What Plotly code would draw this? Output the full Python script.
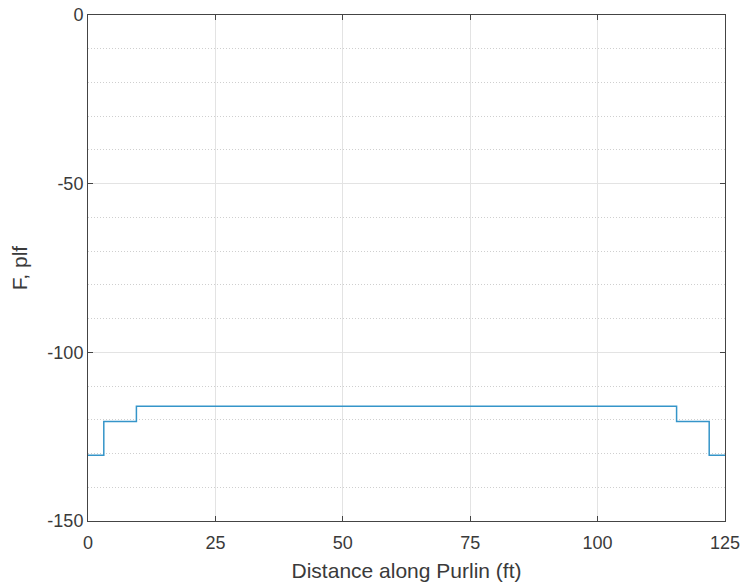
import plotly.graph_objects as go

# step breakpoints (ft) and force levels (plf)
x_pts = [0, 3.1, 9.5, 115.5, 121.9, 125]
f_vals = [-130.5, -120.5, -116, -120.5, -130.5, -130.5]

x_ticks = [0, 25, 50, 75, 100, 125]
x_labels = ["0", "25", "50", "75", "100", "125"]
y_ticks = [0, -50, -100, -150]
y_labels = ["0", "-50", "-100", "-150"]

fig = go.Figure()
fig.add_trace(go.Scatter(x=x_pts, y=f_vals, mode="lines", line_shape="hv",
                         line=dict(color="#3595c9", width=1.5), showlegend=False))

txt = "#3a3a3a"
axis_font = dict(family="Liberation Sans, Arial, sans-serif", size=18, color=txt)
fig.update_layout(
    width=744, height=586,
    margin=dict(l=88, r=19, t=15, b=65),
    paper_bgcolor="white", plot_bgcolor="white",
    font=axis_font,
    xaxis=dict(range=[0, 125], tickvals=x_ticks, ticktext=x_labels,
               automargin=False, ticklabelstandoff=5,
               showgrid=True, gridcolor="#e3e3e3", gridwidth=1,
               showline=True, linecolor="#444444", linewidth=1, mirror="ticks",
               ticks="inside", ticklen=5, tickcolor="#444444",
               zeroline=False, tickfont=dict(size=18, color=txt),
               title=dict(text="Distance along Purlin (ft)", font=dict(size=21, color=txt), standoff=11)),
    yaxis=dict(range=[-150, 0], tickvals=y_ticks, ticktext=y_labels,
               automargin=False,
               showgrid=True, gridcolor="#e3e3e3", gridwidth=1,
               showline=True, linecolor="#444444", linewidth=1, mirror="ticks",
               ticks="inside", ticklen=5, tickcolor="#444444",
               zeroline=False, tickfont=dict(size=18, color=txt),
               minor=dict(dtick=10, tick0=0, showgrid=True, gridcolor="#cfcfcf",
                          griddash="1px,2px", gridwidth=1),
               title=dict(text="F, plf", font=dict(size=21, color=txt), standoff=14)),
)
fig.write_html("out.html")
